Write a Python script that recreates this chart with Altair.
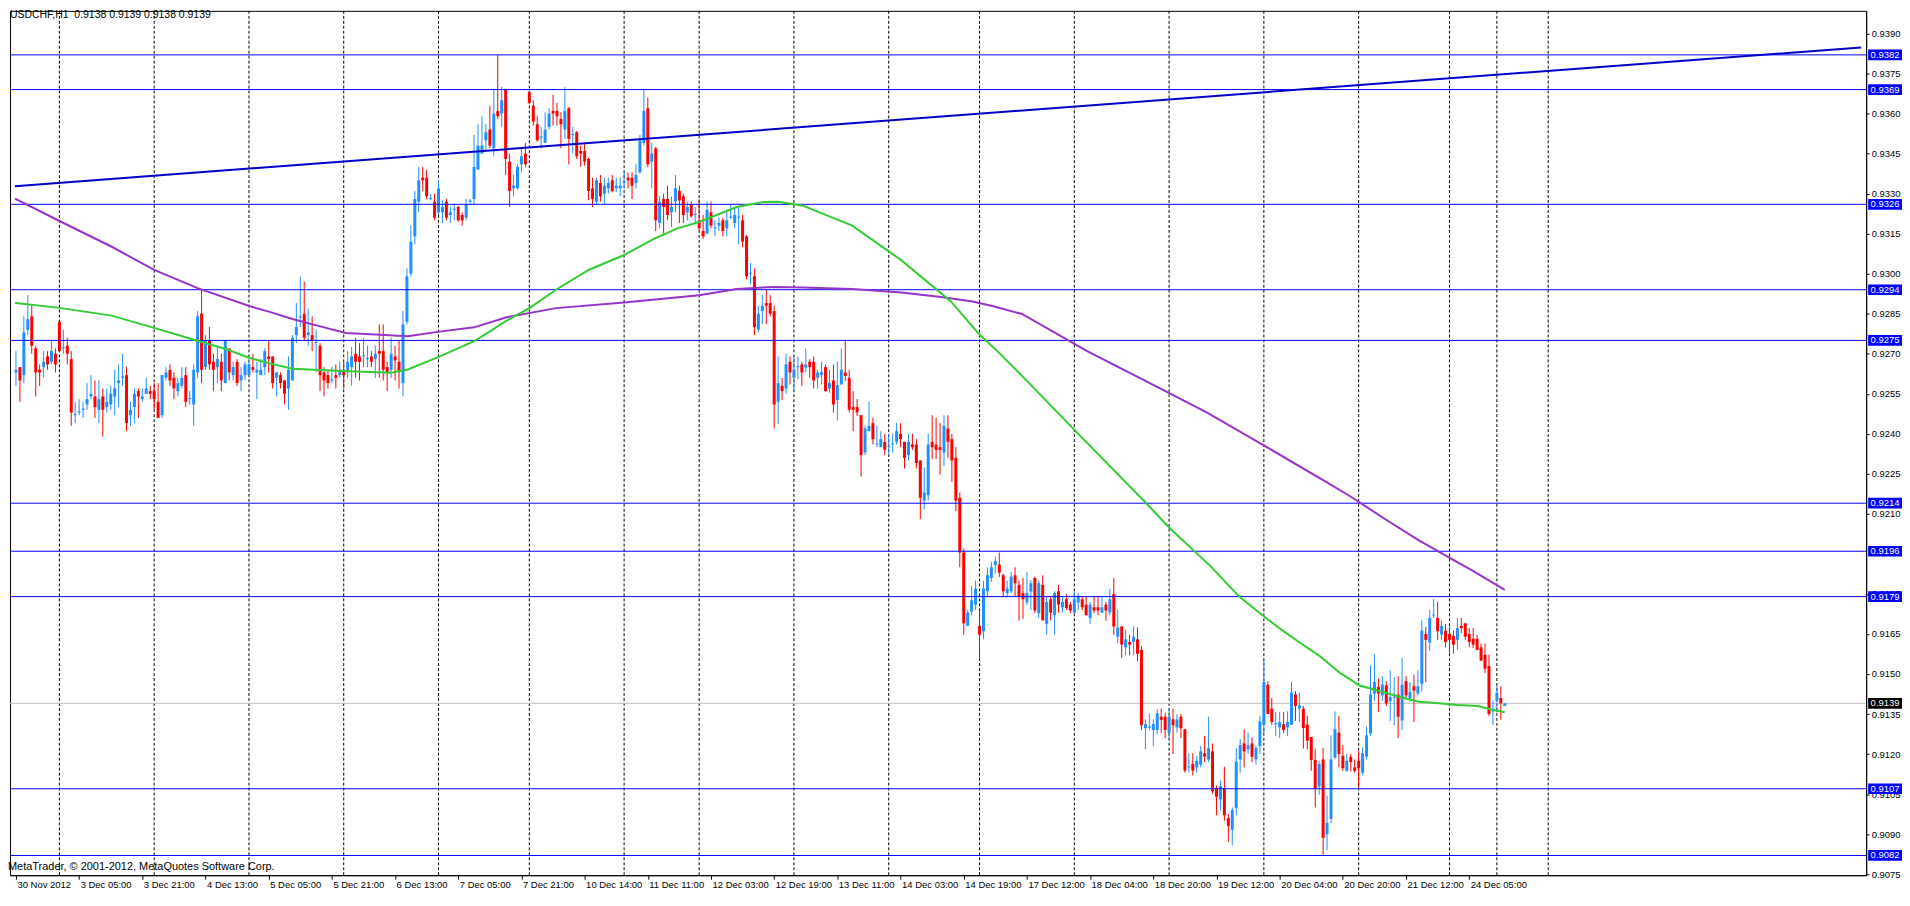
import altair as alt
import pandas as pd

# ---------------- data (prices in pips above 0.9000) ----------------
BASE = 0.9

OPEN = [
263,265,262,279,284,272,264,265,269,267,
270,282,272,273,268,247,248,249,251,254,
254,249,254,250,251,254,259,261,262,247,
250,256,253,255,256,256,252,247,261,264,
261,256,258,262,253,251,263,285,265,275,
267,265,267,259,272,262,267,260,262,262,
265,263,262,265,269,269,261,262,260,257,
260,277,283.6,285,277,277,274,273,263,262,
260,262,262,264,263.5,265,270,269,269,268,
269,268,271,271,265,264,269,267,259,282,
300,314,327,336,336,328,327,323,323,327,
322,324,325,322,321,327,328,339,345,350,
354,347,361,360,369,342,332,332,341,345,
368,363,356,351,349,355,361,361,358,354,
362,352,353,346,346,343,332,327,334,330,
332,335,332,332,334,336,336,334,338,349,
362,342,347,319,328,328,323,327,331,329,
323,326,322,320,316,315,323,317,318,320,
317,321,319,321,320,314,300,299,279,286,
289,289,286,252,258,257,267,261,265,266,
264.8,267,267,261,262,265,257,260,252.7,258.5,
263,261,250,250,247,233,241,244,236,235,
237,235,236,237,240,237,232,236,236,230,
215,217,237,236,235,233,242,238,231,216,
195.5,168,173.4,176,168,166,181,186,190.8,191,
187,180.3,181,187,183.4,180.3,176.8,180.9,186,172.8,
183.4,168.8,178,172,181,175,178,176,173,176.8,
178,176,171,175,175,173,176,173,180,164,
167.8,160,162,162,163,159,129.7,129.9,129,129,
134,134,128,133,130,134,129.3,115,116.3,115,
116,120.3,118,121,107.3,103,107.3,96,91.6,99.8,
118,124,121.8,124,118,123,131,146,137,131.2,
130,131.2,130,131,142.3,137,137,131,126.4,117.8,
107.8,118,90,95.7,118.7,128,119.3,113.7,119,115,
117.5,113,119,127.8,142.7,145.2,142,145.8,139.8,141.1,
142.3,132.6,147.3,141,145.4,142.7,146.3,165,161.8,171.9,
171,164.7,166.2,165,164.3,162.8,168,169,165,163.2,
163.2,160,157.2,153,136,139.8,141,138,
]
HIGH = [
271,265,284,292,288,273,266,271,271,275,
272,282,279,276,271,252,253,252,259,262,
260,260,257,257,258,264,266,270,265,252,
257,257,257,261,258,259,259,262,265,266,
263,261,265,265,256,266,286,294,277,280,
270,273,270,275,272,267,268,265,267,267,
270,267,268,272,275,269,263,263,260,269,
277,289,299,297,287,284,279,274,265,264,
265,266,267,267,271,272.5,276,274,276,273,
271,273,281,281,267,276,273,275,286,302,
318,331,340,340,339,330,330,335,327.5,328,
325,326,325.5,323,328,328,352,356,359,356,
363,369,382,370,369,345,337,341,347,349,
368.5,365,359,355,360.5,362,367,364,360.5,370,
362.5,355,353.5,348,349,343.5,336,336,337,336,
336,337,336,336,338,338,338,341,352,369,
366,349,347.5,329,330,333,329,337,333,330,
327,327,325,328,322,327,327,320,321,321,
324,326,325,325,322,314.5,304,302,288,292,
294,292,288,269,261,270,269,269,269,267,
272,268,269,264,267,266,264,266,267,272,
275,264,256,253,247,243,252,246,243,241,
240,240,240,244,244,237,240,240,238,230,
227.5,240,247,246,244,247,247,240,235,218,
197,174,183,185,173.4,185,190,192,194,195.5,
187.5,185,188.3,190,185,186,188.3,185.2,186.5,185,
187,179,179,181,183.4,179,180,177,181,180.3,
179,179,177,179.3,179.3,179.3,177,182,186,174,
167.8,166.6,164.7,167.8,167.5,160.4,133,135.3,133,136.8,
137,135.5,137,137,135,135,129.3,120.3,120.3,119.3,
123,126.8,134,124,108.2,110,115.2,97.6,100,122.2,
125.6,129.3,128,126.2,123,134.3,155,147.3,141,135.7,
135.7,135.7,136,147,143.6,143,138,134.3,126.4,122,
117.5,122.2,104.4,127,136,134.3,123.4,120,120,118,
121.2,122.5,130.3,153.3,157.3,148.3,149.2,147.3,151.3,148.8,
149.2,156,149.2,147,149.8,151.4,170.3,167.6,174,178.1,
177,170,168.7,167.6,166.3,171,171,169,167.2,167.2,
164.7,161.4,161.4,157.2,140,145.4,145.4,139.1,
]
LOW = [
258,252,259,277,270,254,258,261,264,266,
263,271,270,266,243,244,247,246,249,253,
246,244,239,248,249,247,250,258,241,243,
244,246,252,255,253,249,246,246,260,258,
253,254,257,250,251,243,261,259,264,264,
256,259,256,259,260,260,258,256,260,262,
263,253,262,262,263,257,254,257,251,249,
260,274,280,275,273,271,263,256,254,257,
259,257,261,257,261,258,261,260,265,265,
265,261,261,260,256,261,260,257,254,281,
299,311,323,331,328,327.5,320,322,319,320,
319,320,319.5,318,320,326,326,339,345,346,
347,344,358,355,337,325,329,331.5,338,340,
363.5,355.5,349.5,347,349,354,355.5,355.5,347,350.5,
341,345,343,340,340.5,327.5,325,326,327,326,
330,330.5,330.5,329,332,332,328,332,337.5,348,
340,332,316,317,315,320,317.5,323,319,319,
320,321,319,316,313,315,317,314,316,314,
314,320.5,317,311,310,298,296,277,278,281,
281,284,242,243.6,252.7,255,258.5,256.7,260.4,258,
263,261,257,257,258.5,255.8,255.4,248,245,258.5,
259.8,248,241,246.7,224,232,241,236,235,235,
232,232,233,236,235,227,230,234,227,208,
211.7,215,230.6,230.6,224.7,228,231,222,211,190,
164.7,168,172,174,155.7,163,179,184.6,187.7,186.4,
179,179,180.3,179,170,170.7,175.9,174,172.8,171,
170,164.7,170,164.7,173,173,174,172.8,172.8,174,
174,172,168.8,172.8,172,173,170,172,164.7,161.6,
156,157,157,157,154.8,129,121.8,128.9,123,127.4,
128,126,126,120,128,126,113,113.1,112,113,
115,117,117,105,97,98.8,95,87,85.8,97,
113,115,120,117,116,120,128,135,131,126.8,
126,128,126.8,131,132.4,132,122,121.8,113.7,100,
104.7,82,84,94,118,115,113.7,113.5,113.5,113,
107,112,118,126.8,140,135.7,140,138,132.4,130.8,
126,129,140.5,139.5,132,142,143.3,147,158.7,171,
162.8,162.8,160,158,157.6,159,165.3,162.8,160,159.7,
159,155,150.4,134.2,131,135.7,132.8,138,
]
CLOSE = [
264,260,278,283,273,263,263,267,266,271,
266,271,272.4,270,248,247.4,248.4,249.5,253,255,
250,253,249,252,255,257,260,261.5,244,249,
255,254,254,257,255,253,246,262,263,260,
257,259,261,252,253.4,264,284,264,275,266,
264,268,260,275,263,265,259,262,266,266,
264,264,264,271,268,259,263,259,255,264,
276,280,284,276,278,275,274.4,262,260,259,
260.4,261,264,262,267,269,267,267,269.4,268.4,
267,270,270,264,263,270,267.5,263.5,281,299,
312,328,335,335,329,328.4,321,332,325,321,
323,324.4,320,320,326,327.4,340,348,348,353,
348,360,359,365,343,331,333,340,344,341,
364,357,350,351.4,354,360,360,359,356,361,
350.5,352.4,344,345,342,331,328,335,329,333,
334,331,333,333,334.4,335,333,337,350,361,
341,345,320,327,325,322,325,332,327.5,322,
325,321.5,322.4,317,314,324,318,317.4,319,316,
320,321.4,322,321.4,312,299,300.4,280,285,288,
288,285,251,259,256,266,263,264,265.4,263,
266,265,260,263,263.2,256,259,251,258.3,264,
261.7,249,249,248,232,242,243,238,236.4,238,
234,235.4,236.4,241,238,231,237,235,229,216,
218,236,235,234,234,243,237,230,215,195.5,
169,173,177.6,182,164.7,182,187,190,192.3,188,
181,182,186.5,184,179,178,180.3,184,173.8,184,
170.1,177,173,180.3,176,177,174.7,173.8,178,179.3,
175,172,176,173.8,173.8,175,173.8,178,167.8,167.4,
161,163,161,164,157.6,130.8,131.2,130.3,131.2,135.3,
132.8,129,134,130.8,133,129.7,113.8,115.4,113.8,117.5,
121,119,122.2,106,104,108,97,93,99,117.2,
123.3,121,123.3,119,122.2,132.2,147,135,132,131.6,
132,129,132,143,138,138.2,129.7,125,117.8,107,
116.2,88.6,94.2,118,129.3,120,114.7,117.5,117,113.7,
114.7,120.3,127,142.3,147,142.7,146,139,141.3,141.5,
134,146,142,143.2,143.8,145.4,166.3,162.8,171,172.3,
166,168,162,162.8,161,167.2,167.2,164,162,161,
159,155,152,135,137,143,139,139,
]

# moving averages (bar index, pips)
GREEN_BAR = [-0.25, 0, 11, 24.25, 35, 44.25, 53.5, 59, 64.25, 70, 82.5, 95, 99.25, 107.5,
             116, 120, 124.25, 130, 136.75, 145, 154, 161.75, 167.5, 173, 182.5, 189.25,
             193, 199.25, 211.75, 224.25, 236.75, 244, 248.5, 254.75, 270, 285.5, 292.25, 299,
             302.25, 309.75, 315.5, 320.25, 325.25, 330.25, 335.25, 340.25, 345.25, 350.25,
             355.25, 360.25, 365.25, 370.25, 373.5, 377]
GREEN_PIPS = [289.0, 289.0, 287.2, 284.3, 279.7, 275.6, 271.6, 268.5, 266.4, 264.4, 263.5, 262.9,
              264.1, 269.1, 274.7, 278.4, 282.4, 287.1, 294.0, 301.4, 307.0, 313.2, 317.0, 319.4,
              325.0, 326.9, 327.0, 325.5, 318, 305, 289.6, 277.2, 271.0, 261.7, 238.5, 215.1, 204.5,
              195.2, 190.8, 179.0, 172.2, 166.8, 161.6, 156.6, 150.4, 145.7, 143.6, 141.5, 139.6,
              139.0, 138.4, 138.0, 136.7, 135.7]
PURPLE_BAR = [-0.25, 10, 24.25, 35, 46, 59.25, 64.25, 70, 78.5, 83.5, 91, 99.25, 106.75,
              116, 124.25, 136.75, 154, 173, 182.5, 191.75, 199.25, 211.75, 224.25, 234.25,
              242.25, 247.5, 254.75, 271.25, 286.5, 301.5, 316.75, 331.75, 337.75, 346.75,
              355.25, 360.75, 363.25, 368.5, 377]
PURPLE_PIPS = [328.1, 320.5, 310.1, 301.4, 294.6, 287.8, 285.7, 283.0, 279.7, 277.8, 277.2,
               276.6, 278.2, 279.9, 283.7, 287.1, 289.2, 291.9, 294.3, 295.0, 294.8, 294.3, 293.0,
               291.3, 289.6, 287.8, 284.9, 271, 259.5, 248, 235, 222, 216.7, 208, 200.1, 195.5,
               193.3, 189.0, 181.5]

TREND_BAR = [-0.25, 467.25]
TREND_PRICE = [0.93328, 0.93848]

LEVELS = [0.9382, 0.9369, 0.9326, 0.9294, 0.9275, 0.9214, 0.9196, 0.9179, 0.9107, 0.9082]
LAST_PRICE = 0.9139

GRID_BARS = [11, 35, 59, 83, 107, 130, 154, 173, 197, 221, 244, 268, 292, 316, 340, 363, 375, 388]

TIME_LABELS = ["30 Nov 2012", "3 Dec 05:00", "3 Dec 21:00", "4 Dec 13:00", "5 Dec 05:00",
               "5 Dec 21:00", "6 Dec 13:00", "7 Dec 05:00", "7 Dec 21:00", "10 Dec 14:00",
               "11 Dec 11:00", "12 Dec 03:00", "12 Dec 19:00", "13 Dec 11:00", "14 Dec 03:00",
               "14 Dec 19:00", "17 Dec 12:00", "18 Dec 04:00", "18 Dec 20:00", "19 Dec 12:00",
               "20 Dec 04:00", "20 Dec 20:00", "21 Dec 12:00", "24 Dec 05:00"]
LABEL_STEP = 16

PRICE_TICKS = [0.9390, 0.9375, 0.9360, 0.9345, 0.9330, 0.9315, 0.9300, 0.9285, 0.9270, 0.9255,
               0.9240, 0.9225, 0.9210, 0.9180, 0.9165, 0.9150, 0.9135, 0.9120, 0.9105,
               0.9090, 0.9075]

HEADER = "USDCHF,H1\u00a0\u00a00.9138 0.9139 0.9138 0.9139"
COPYRIGHT = "MetaTrader, \u00a9 2001-2012, MetaQuotes Software Corp."

# ---------------- layout ----------------
W, H = 1864, 868
XDOM = [-0.25, 467.25]
YDOM = [0.90746, 0.93985]
FONT = "Liberation Sans"

n = len(CLOSE)
candles = pd.DataFrame({
    "bar": list(range(n)),
    "o": [BASE + v / 10000 for v in OPEN],
    "h": [BASE + v / 10000 for v in HIGH],
    "l": [BASE + v / 10000 for v in LOW],
    "c": [BASE + v / 10000 for v in CLOSE],
})
candles["dir"] = ["up" if c >= o else "down" for o, c in zip(OPEN, CLOSE)]

green = pd.DataFrame({"bar": GREEN_BAR, "p": [BASE + v / 10000 for v in GREEN_PIPS]})
purple = pd.DataFrame({"bar": PURPLE_BAR, "p": [BASE + v / 10000 for v in PURPLE_PIPS]})
trend = pd.DataFrame({"bar": TREND_BAR, "p": TREND_PRICE})
levels = pd.DataFrame({"p": LEVELS, "t": [f"{v:.4f}" for v in LEVELS]})
last = pd.DataFrame({"p": [LAST_PRICE], "t": [f"{LAST_PRICE:.4f}"]})
grid = pd.DataFrame({"bar": GRID_BARS})

label_expr = "[" + ",".join(f"'{t}'" for t in TIME_LABELS) + f"][round(datum.value/{LABEL_STEP})]"

xaxis = alt.Axis(values=[i * LABEL_STEP for i in range(len(TIME_LABELS))], labelExpr=label_expr,
                 title=None, grid=False, tickSize=4, tickColor="black", domainColor="black",
                 labelAlign="left", labelOffset=1, labelPadding=0, labelFont=FONT,
                 labelFontSize=9.5, labelColor="black", labelOverlap=False, labelFlush=False,
                 labelBound=False, labelBaseline="top")
yaxis = alt.Axis(orient="right", values=PRICE_TICKS, format=".4f", title=None, grid=False,
                 tickSize=3, tickColor="black", domainColor="black", labelPadding=2,
                 labelFont=FONT, labelFontSize=9.5, labelColor="black", labelOverlap=False,
                 labelFlush=False, labelBound=False)
xscale = alt.Scale(domain=XDOM, nice=False, zero=False)
yscale = alt.Scale(domain=YDOM, nice=False, zero=False)


def X(f):
    return alt.X(f"{f}:Q", scale=xscale, axis=xaxis)


def Y(f):
    return alt.Y(f"{f}:Q", scale=yscale, axis=yaxis)


col = alt.Color("dir:N", scale=alt.Scale(domain=["up", "down"], range=["#1E90FF", "#FF0000"]),
                legend=None)

grid_layer = alt.Chart(grid).mark_rule(color="black", strokeDash=[3, 2], strokeWidth=1).encode(x=X("bar"))
last_line = alt.Chart(last).mark_rule(color="#C0C0C0", strokeWidth=1).encode(y=Y("p"))
wicks = alt.Chart(candles).mark_rule(strokeWidth=1).encode(x=X("bar"), y=Y("l"), y2="h", color=col)
bodies = alt.Chart(candles).mark_bar(size=3, orient="vertical").encode(x=X("bar"), y=Y("o"), y2="c", color=col)
level_lines = alt.Chart(levels).mark_rule(color="#0000FF", strokeWidth=1).encode(y=Y("p"))
green_line = alt.Chart(green).mark_line(color="#32CD32", strokeWidth=2).encode(x=X("bar"), y=Y("p"))
purple_line = alt.Chart(purple).mark_line(color="#9932CC", strokeWidth=2).encode(x=X("bar"), y=Y("p"))
trend_line = alt.Chart(trend).mark_line(color="#0000CD", strokeWidth=2, clip=True).encode(x=X("bar"), y=Y("p"))

box_half = 0.00020
lvl_boxes = alt.Chart(levels).transform_calculate(lo=f"datum.p-{box_half}", hi=f"datum.p+{box_half}").mark_rect(
    color="#0000FF").encode(x=alt.value(W + 2), x2=alt.value(W + 36), y=Y("lo"), y2="hi")
lvl_text = alt.Chart(levels).mark_text(color="white", font=FONT, fontSize=9.5, align="center",
                                       baseline="middle").encode(x=alt.value(W + 19), y=Y("p"), text="t:N")
last_box = alt.Chart(last).transform_calculate(lo=f"datum.p-{box_half}", hi=f"datum.p+{box_half}").mark_rect(
    color="black").encode(x=alt.value(W + 2), x2=alt.value(W + 36), y=Y("lo"), y2="hi")
last_text = alt.Chart(last).mark_text(color="white", font=FONT, fontSize=9.5, align="center",
                                      baseline="middle").encode(x=alt.value(W + 19), y=Y("p"), text="t:N")

header = alt.Chart(pd.DataFrame({"t": [HEADER]})).mark_text(
    font=FONT, fontSize=10.5, align="left", baseline="middle", color="black").encode(
    x=alt.value(0), y=alt.value(4), text="t:N")
copyright_t = alt.Chart(pd.DataFrame({"t": [COPYRIGHT]})).mark_text(
    font=FONT, fontSize=11, align="left", baseline="middle", color="black").encode(
    x=alt.value(-2), y=alt.value(H - 8), text="t:N")

chart = alt.layer(
    grid_layer, last_line, wicks, bodies, level_lines, purple_line, green_line, trend_line,
    lvl_boxes, lvl_text, last_box, last_text, header, copyright_t
).properties(width=W, height=H, padding={"left": 0, "top": 0, "right": 0, "bottom": 0},
             background="white").configure_view(stroke="black", strokeWidth=1)

chart.save("out.html", embed_options={"renderer": "svg", "actions": False})
